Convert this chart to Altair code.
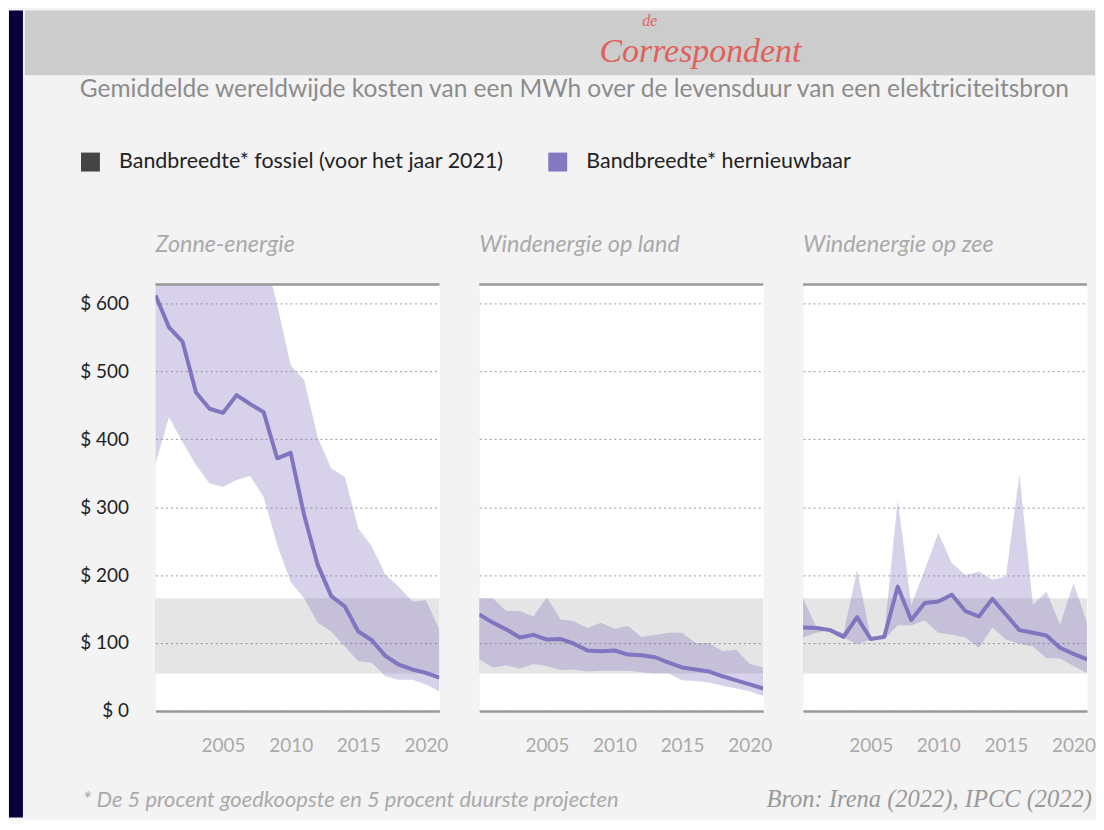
import altair as alt
import pandas as pd

# ---------------- data ----------------
years = list(range(2000, 2022))
panel_names = ["Zonne-energie", "Windenergie op land", "Windenergie op zee"]

solar_mid = [612, 565, 544, 469, 445, 439, 465, 452, 440, 372, 380, 288, 215, 169, 154, 117, 104, 81, 68, 61, 56, 49]
solar_hi = [760, 750, 740, 730, 720, 710, 700, 690, 680, 598, 509, 487, 403, 357, 345, 269, 242, 201, 183, 161, 163, 120]
solar_lo = [364, 433, 396, 362, 335, 330, 340, 346, 315, 245, 190, 166, 130, 117, 95, 73, 71, 51, 46, 46, 39, 29]

onshore_mid = [142, 130, 120, 108, 112, 105, 106, 99, 89, 88, 89, 83, 82, 79, 71, 64, 61, 58, 51, 45, 39, 33]
onshore_hi = [166, 166, 147, 147, 139, 167, 135, 132, 122, 130, 121, 125, 109, 112, 115, 115, 100, 100, 88, 90, 69, 64]
onshore_lo = [76, 64, 67, 62, 69, 66, 60, 61, 58, 59, 59, 59, 57, 55, 55, 45, 44, 42, 37, 33, 29, 22]

offshore_mid = [123, 122, 119, 109, 138, 106, 109, 183, 134, 159, 161, 171, 147, 139, 165, 142, 119, 115, 111, 93, 84, 76]
offshore_hi = [166, 123, 120, 115, 208, 108, 112, 311, 156, 208, 262, 218, 200, 205, 193, 198, 348, 156, 176, 127, 188, 130]
offshore_lo = [108, 115, 119, 108, 98, 105, 105, 126, 126, 133, 115, 112, 108, 93, 123, 105, 99, 95, 78, 77, 66, 56]

fossil_range = [55, 166]
y_max = 628
y_ticks = [0, 100, 200, 300, 400, 500, 600]
x_ticks = [2005, 2010, 2015, 2020]

legend_labels = ["Bandbreedte* fossiel (voor het jaar 2021)", "Bandbreedte* hernieuwbaar"]
legend_colors = ["#444444", "#8577c0"]
line_color = "#8274bf"

title_text = "Gemiddelde wereldwijde kosten van een MWh over de levensduur van een elektriciteitsbron"
footnote_text = ["*  De 5 procent goedkoopste en 5 procent duurste projecten"]
source_text = ["Bron: Irena (2022), IPCC (2022)"]
logo_small = ["de"]
logo_big = ["Correspondent"]

FONT = "Lato"
PANEL_W, PANEL_H = 285, 428
LEFT = 131          # room left of the first plot (axis labels, legend, title)
INNER_W = 943       # from first plot's left edge to the right edge of the page content

color_scale = alt.Scale(domain=legend_labels, range=legend_colors)
legend = alt.Legend(
    title=None, orient="none", legendX=-76, legendY=-134, direction="horizontal",
    symbolType="square", symbolSize=361, symbolOpacity=1, symbolStrokeWidth=0,
    labelFontSize=21.5, labelFont=FONT, labelColor="#222222", labelOffset=18,
    columnPadding=42, labelLimit=700,
)

x_scale = alt.Scale(domain=[years[0], years[-1]], nice=False, zero=False)
y_scale = alt.Scale(domain=[0, y_max], nice=False)
x_axis = alt.Axis(values=x_ticks, format="d", labelFontSize=19, labelFont=FONT, labelColor="#aaaaaa",
                  ticks=False, tickSize=0, labelPadding=25.5, domain=True, domainColor="#999999",
                  domainWidth=2.5, grid=False, title=None)


def y_axis(first):
    if first:
        return alt.Axis(values=y_ticks, labelExpr="'$ ' + datum.value", labelFontSize=19, labelFont=FONT,
                        labelColor="#222222", ticks=False, tickSize=0, domain=False, grid=True,
                        gridColor="#9a9a9a", gridDash=[2, 3], gridWidth=1, labelPadding=27, title=None)
    return alt.Axis(values=y_ticks, labels=False, ticks=False, tickSize=0, domain=False, grid=True,
                    gridColor="#9a9a9a", gridDash=[2, 3], gridWidth=1, title=None, minExtent=0)


def panel(i, name, mid, lo, hi):
    ya = y_axis(i == 0)
    df = pd.DataFrame({"year": years, "mid": mid, "lo": lo, "hi": hi, "cat": legend_labels[1]})
    band_df = pd.DataFrame({"x0": [years[0]], "x1": [years[-1]], "y0": [fossil_range[0]],
                            "y1": [fossil_range[1]], "cat": [legend_labels[0]]})
    frame_df = pd.DataFrame({"y": [y_max]})

    band = alt.Chart(band_df).mark_rect(opacity=0.14).encode(
        x=alt.X("x0:Q", scale=x_scale, axis=x_axis), x2="x1:Q",
        y=alt.Y("y0:Q", scale=y_scale, axis=ya), y2="y1:Q",
        color=alt.Color("cat:N", scale=color_scale, legend=legend),
    )
    area = alt.Chart(df).mark_area(opacity=0.33, clip=True).encode(
        x=alt.X("year:Q", scale=x_scale, axis=x_axis),
        y=alt.Y("lo:Q", scale=y_scale, axis=ya), y2="hi:Q",
        color=alt.Color("cat:N", scale=color_scale, legend=legend),
    )
    line = alt.Chart(df).mark_line(strokeWidth=4, color=line_color, clip=True, strokeJoin="round").encode(
        x=alt.X("year:Q", scale=x_scale, axis=x_axis),
        y=alt.Y("mid:Q", scale=y_scale, axis=ya),
    )
    top = alt.Chart(frame_df).mark_rule(color="#999999", strokeWidth=2.5).encode(
        y=alt.Y("y:Q", scale=y_scale, axis=ya),
    )
    return alt.layer(band, area, line, top).properties(
        width=PANEL_W, height=PANEL_H,
        view=alt.ViewBackground(fill="white", stroke="transparent"),
        title=alt.TitleParams(name, anchor="start", frame="group", fontSize=23.5, fontStyle="italic",
                              font=FONT, color="#aaaaaa", fontWeight="normal", offset=27),
    )


main = alt.hconcat(
    panel(0, panel_names[0], solar_mid, solar_lo, solar_hi),
    panel(1, panel_names[1], onshore_mid, onshore_lo, onshore_hi),
    panel(2, panel_names[2], offshore_mid, offshore_lo, offshore_hi),
    spacing=29,
    title=alt.TitleParams(title_text, anchor="start", frame="group", dx=-76, fontSize=24.6, font=FONT,
                          color="#8c8c8c", fontWeight="normal", offset=49),
).resolve_scale(color="shared").resolve_legend(color="shared")

# header band with logo (decoration)
header = alt.layer(
    alt.Chart(pd.DataFrame({"t": logo_big})).mark_rect(color="#cccccc").encode(
        x=alt.value(-LEFT), x2=alt.value(INNER_W), y=alt.value(0), y2=alt.value(65)),
    alt.Chart(pd.DataFrame({"t": logo_big})).mark_text(
        font="Liberation Serif", fontStyle="italic", fontSize=34, color="#e0605a", align="center",
        baseline="alphabetic").encode(text="t:N", x=alt.value(547), y=alt.value(52)),
    alt.Chart(pd.DataFrame({"t": logo_small})).mark_text(
        font="Liberation Serif", fontStyle="italic", fontSize=16, color="#e0605a", align="center",
        baseline="alphabetic").encode(text="t:N", x=alt.value(496), y=alt.value(16)),
).properties(width=INNER_W, height=65)

footer = alt.layer(
    alt.Chart(pd.DataFrame({"t": footnote_text})).mark_text(
        font=FONT, fontStyle="italic", fontSize=22, color="#aaaaaa", align="left",
        baseline="alphabetic").encode(text="t:N", x=alt.value(-73), y=alt.value(50)),
    alt.Chart(pd.DataFrame({"t": source_text})).mark_text(
        font="Liberation Serif", fontStyle="italic", fontSize=24.6, color="#999999", align="right",
        baseline="alphabetic").encode(text="t:N", x=alt.value(940), y=alt.value(50)),
).properties(width=INNER_W, height=58)

strip = alt.Chart(pd.DataFrame({"v": [0]})).mark_rect(color="#07003a").encode(
    x=alt.value(0), x2=alt.value(14), y=alt.value(0), y2=alt.value(810)
).properties(width=14, height=810)

right = alt.vconcat(header, main, footer, spacing=0).resolve_scale(color="independent").resolve_legend(
    color="independent")
chart = alt.hconcat(strip, right, spacing=0).resolve_scale(color="independent").resolve_legend(
    color="independent"
).configure(background="#f3f3f3", padding=0).configure_view(stroke="transparent")

chart.save("out.html", embed_options={"renderer": "svg", "actions": False})
